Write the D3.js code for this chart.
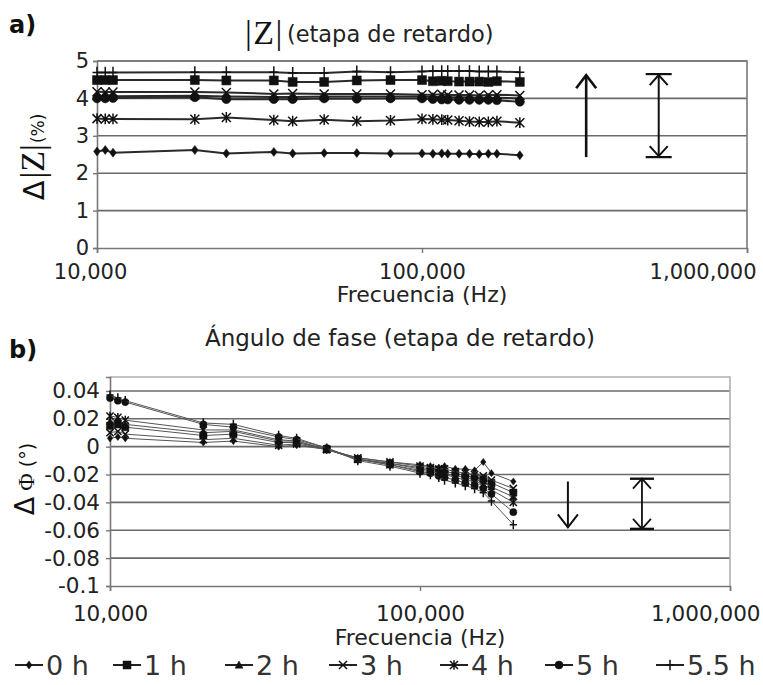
<!DOCTYPE html>
<html><head><meta charset="utf-8">
<script src="https://cdn.jsdelivr.net/npm/d3@7"></script>
<style>body{margin:0;background:#fff}svg{display:block}</style>
</head><body><svg id="c" width="763" height="685"></svg>
<script>
// ---------- DATA ----------
const frequencies = [10000, 10600, 11200, 20000, 25000, 35000, 40000, 50000, 63000, 80000,
  100000, 108000, 115000, 120000, 130000, 140000, 150000, 160000, 170000, 200000];
const seriesNames = ["0 h", "1 h", "2 h", "3 h", "4 h", "5 h", "5.5 h"];
const markerTypes = ["diamond", "square", "triangle", "x", "asterisk", "circle", "plus"];

// a) Δ|Z| (%)
const mag0h  = [2.58, 2.62, 2.55, 2.62, 2.53, 2.57, 2.53, 2.54, 2.54, 2.53, 2.53, 2.52, 2.53, 2.52, 2.52, 2.52, 2.51, 2.52, 2.52, 2.48];
const mag1h  = [4.49, 4.49, 4.49, 4.49, 4.48, 4.48, 4.44, 4.44, 4.48, 4.49, 4.49, 4.46, 4.47, 4.46, 4.45, 4.45, 4.45, 4.44, 4.46, 4.44];
const mag2h  = [4.06, 4.06, 4.06, 4.07, 4.05, 4.04, 4.04, 4.05, 4.05, 4.05, 4.05, 4.04, 4.04, 4.03, 4.03, 4.03, 4.02, 4.02, 4.02, 4.00];
const mag3h  = [4.18, 4.17, 4.17, 4.17, 4.16, 4.12, 4.13, 4.12, 4.12, 4.12, 4.10, 4.10, 4.11, 4.09, 4.09, 4.09, 4.08, 4.09, 4.10, 4.08];
const mag4h  = [3.46, 3.45, 3.45, 3.44, 3.49, 3.42, 3.39, 3.43, 3.39, 3.41, 3.45, 3.44, 3.43, 3.42, 3.40, 3.38, 3.37, 3.37, 3.39, 3.35];
const mag5h  = [4.00, 4.00, 4.01, 4.03, 3.98, 3.98, 3.98, 4.00, 3.99, 4.00, 4.00, 3.98, 3.97, 3.97, 3.96, 3.96, 3.96, 3.96, 3.95, 3.91];
const mag55h = [4.69, 4.69, 4.69, 4.70, 4.70, 4.70, 4.68, 4.68, 4.72, 4.70, 4.72, 4.73, 4.73, 4.73, 4.73, 4.73, 4.72, 4.72, 4.72, 4.70];

// b) ΔΦ (°)
const ph0h  = [0.006, 0.007, 0.006, 0.003, 0.004, 0.000, 0.001, -0.002, -0.008, -0.011, -0.013, -0.014, -0.015, -0.014, -0.016, -0.016, -0.017, -0.011, -0.019, -0.025];
const ph1h  = [0.015, 0.016, 0.014, 0.008, 0.009, 0.003, 0.003, -0.002, -0.009, -0.012, -0.015, -0.016, -0.017, -0.018, -0.019, -0.021, -0.022, -0.023, -0.026, -0.033];
const ph2h  = [0.018, 0.019, 0.016, 0.010, 0.011, 0.004, 0.004, -0.002, -0.009, -0.012, -0.016, -0.017, -0.018, -0.019, -0.021, -0.022, -0.024, -0.025, -0.029, -0.036];
const ph3h  = [0.010, 0.011, 0.009, 0.005, 0.006, 0.001, 0.002, -0.002, -0.008, -0.011, -0.014, -0.015, -0.016, -0.016, -0.018, -0.019, -0.020, -0.021, -0.024, -0.030];
const ph4h  = [0.022, 0.021, 0.019, 0.012, 0.012, 0.005, 0.004, -0.002, -0.009, -0.013, -0.017, -0.018, -0.019, -0.020, -0.022, -0.024, -0.025, -0.027, -0.031, -0.040];
const ph5h  = [0.035, 0.033, 0.032, 0.016, 0.014, 0.007, 0.005, -0.001, -0.009, -0.013, -0.018, -0.019, -0.021, -0.022, -0.024, -0.026, -0.028, -0.030, -0.034, -0.047];
const ph55h = [0.037, 0.035, 0.033, 0.017, 0.016, 0.008, 0.006, -0.001, -0.010, -0.014, -0.019, -0.020, -0.022, -0.024, -0.026, -0.028, -0.030, -0.033, -0.039, -0.056];

const magTicks = [0, 1, 2, 3, 4, 5];
const phaseTicks = [-0.1, -0.08, -0.06, -0.04, -0.02, 0, 0.02, 0.04];
const freqTicks = [10000, 100000, 1000000];

// annotation arrows (freq, from value, to value)
const magArrowSingle = [320000, 2.43, 4.62];
const magArrowDouble = [535000, 2.43, 4.65];
const phArrowSingle = [300000, -0.025, -0.058];
const phArrowDouble = [520000, -0.023, -0.059];

const magSeries = [mag0h, mag1h, mag2h, mag3h, mag4h, mag5h, mag55h];
const phSeries = [ph0h, ph1h, ph2h, ph3h, ph4h, ph5h, ph55h];

// ---------- DRAW ----------
const svg = d3.select("#c");
const SANS = "'DejaVu Sans', sans-serif";
const SERIF = "'Liberation Serif', 'DejaVu Serif', serif";

function markerPath(type, r) {
  switch (type) {
    case "diamond": return `M0,${-r}L${r*0.75},0L0,${r}L${-r*0.75},0Z`;
    case "square": return `M${-r},${-r}H${r}V${r}H${-r}Z`;
    case "triangle": return `M0,${-r}L${r},${r*0.8}L${-r},${r*0.8}Z`;
    case "circle": return d3.arc()({innerRadius:0, outerRadius:r, startAngle:0, endAngle:2*Math.PI});
    case "x": return `M${-r},${-r}L${r},${r}M${-r},${r}L${r},${-r}`;
    case "asterisk": return `M${-r},${-r}L${r},${r}M${-r},${r}L${r},${-r}M0,${-r*1.2}V${r*1.2}`;
    case "plus": return `M0,${-r*1.3}V${r*1.3}M${-r},0H${r}`;
  }
}
function drawMarker(g, type, r, sw) {
  const filled = ["diamond", "square", "triangle", "circle"].includes(type);
  g.append("path").attr("d", markerPath(type, r))
    .attr("fill", filled ? "#111" : "none")
    .attr("stroke", "#111").attr("stroke-width", filled ? 0.5 : sw);
}

function arrowHead(g, x, y, dir, w, h, sw) {
  g.append("path").attr("d", `M${x-w},${y - dir*h}L${x},${y}L${x+w},${y - dir*h}`)
    .attr("fill", "none").attr("stroke", "#111").attr("stroke-width", sw);
}

function panel(opts) {
  const {x, y, data, yTicks, yFmt, lineW, lineColor, markerR, frameColor, yLabelPad, xLabelPad, firstLabelShift, lastLabelEnd, tickFont} = opts;
  const g = svg.append("g");
  const [x0, x1] = x.range();
  const [yb, yt] = y.range();
  g.selectAll(".grid").data(yTicks.filter(t => t !== y.domain()[0])).join("line")
    .attr("x1", x0).attr("x2", x1).attr("y1", d => y(d)).attr("y2", d => y(d))
    .attr("stroke", "#6a6a6a").attr("stroke-width", 1.6);
  g.append("path").attr("d", `M${x0},${yt}H${x1}V${yb}`).attr("fill", "none")
    .attr("stroke", frameColor).attr("stroke-width", 1.6);
  const xa = g.append("g").attr("transform", `translate(0,${yb})`)
    .call(d3.axisBottom(x).tickValues(freqTicks).tickFormat(d3.format(",")).tickSize(5).tickPadding(xLabelPad));
  xa.select(".domain").attr("stroke", "#777").attr("stroke-width", 1.6);
  xa.selectAll(".tick line").attr("stroke", "#777").attr("stroke-width", 1.4);
  xa.selectAll(".tick text").attr("font-family", SANS).attr("font-size", tickFont).attr("fill", "#222")
    .each(function(d) {
      if (d === freqTicks[0]) d3.select(this).attr("x", firstLabelShift);
      if (d === freqTicks[freqTicks.length - 1]) d3.select(this).attr("text-anchor", "end").attr("x", lastLabelEnd - x1);
    });
  const ya = g.append("g").attr("transform", `translate(${x0},0)`)
    .call(d3.axisLeft(y).tickValues(yTicks).tickFormat(yFmt).tickSize(4).tickPadding(yLabelPad));
  ya.select(".domain").attr("stroke", "#777").attr("stroke-width", 1.6);
  ya.selectAll(".tick line").attr("stroke", "#777").attr("stroke-width", 1.4);
  ya.selectAll(".tick text").attr("font-family", SANS).attr("font-size", tickFont).attr("fill", "#222");
  const line = d3.line().x((d, i) => x(frequencies[i])).y(d => y(d));
  data.forEach((vals, si) => {
    g.append("path").attr("d", line(vals)).attr("fill", "none")
      .attr("stroke", lineColor).attr("stroke-width", lineW);
    vals.forEach((v, i) => {
      const m = g.append("g").attr("transform", `translate(${x(frequencies[i])},${y(v)})`);
      drawMarker(m, markerTypes[si], markerR, 1.5);
    });
  });
  return g;
}

// ---- Panel a ----
const xA = d3.scaleLog().domain([1e4, 1e6]).range([97, 747]);
const yA = d3.scaleLinear().domain([0, 5]).range([248, 61]);
const gA = panel({x: xA, y: yA, data: magSeries, yTicks: magTicks, yFmt: d => String(d),
  lineW: 2, lineColor: "#2a2a2a", markerR: 4.5, frameColor: "#7a7a7a", yLabelPad: 4, xLabelPad: 11,
  firstLabelShift: -7, lastLabelEnd: 756, tickFont: 21});
{
  const [f, v0, v1] = magArrowSingle;
  const X = xA(f);
  gA.append("line").attr("x1", X).attr("x2", X).attr("y1", yA(v0)).attr("y2", yA(v1))
    .attr("stroke", "#111").attr("stroke-width", 2.6);
  arrowHead(gA, X, yA(v1), -1, 10, 13, 2.6);
  const [f2, w0, w1] = magArrowDouble;
  const X2 = xA(f2);
  gA.append("line").attr("x1", X2).attr("x2", X2).attr("y1", yA(w0)).attr("y2", yA(w1))
    .attr("stroke", "#111").attr("stroke-width", 2);
  [[w0, 1], [w1, -1]].forEach(([w, dir]) => {
    gA.append("line").attr("x1", X2 - 13).attr("x2", X2 + 13).attr("y1", yA(w)).attr("y2", yA(w))
      .attr("stroke", "#111").attr("stroke-width", 2.2);
    arrowHead(gA, X2, yA(w) - dir * 1, dir, 9, 10, 2);
  });
}

// ---- Panel b ----
const xB = d3.scaleLog().domain([1e4, 1e6]).range([110, 730]);
const yB = d3.scaleLinear().domain([-0.1, 0.05]).range([586, 377]);
const gB = panel({x: xB, y: yB, data: phSeries, yTicks: phaseTicks,
  yFmt: d => d === 0 ? "0" : String(+d.toFixed(2)),
  lineW: 1, lineColor: "#555", markerR: 3.6, frameColor: "#b0b0b0", yLabelPad: 6, xLabelPad: 15,
  firstLabelShift: 0, lastLabelEnd: 760, tickFont: 21.5});
{
  const [f, v0, v1] = phArrowSingle;
  const X = xB(f);
  gB.append("line").attr("x1", X).attr("x2", X).attr("y1", yB(v0)).attr("y2", yB(v1))
    .attr("stroke", "#111").attr("stroke-width", 2);
  arrowHead(gB, X, yB(v1), 1, 10, 13, 2);
  const [f2, w0, w1] = phArrowDouble;
  const X2 = xB(f2);
  gB.append("line").attr("x1", X2).attr("x2", X2).attr("y1", yB(w0)).attr("y2", yB(w1))
    .attr("stroke", "#111").attr("stroke-width", 1.8);
  [[w0, -1], [w1, 1]].forEach(([w, dir]) => {
    gB.append("line").attr("x1", X2 - 12).attr("x2", X2 + 12).attr("y1", yB(w)).attr("y2", yB(w))
      .attr("stroke", "#111").attr("stroke-width", 2.4);
    arrowHead(gB, X2, yB(w), dir, 9, 10, 1.8);
  });
}

// ---- Texts ----
svg.append("text").attr("x", 9).attr("y", 33).attr("font-family", SANS).attr("font-weight", "bold")
  .attr("font-size", 24).attr("fill", "#111").text("a)");
svg.append("text").attr("x", 9).attr("y", 358).attr("font-family", SANS).attr("font-weight", "bold")
  .attr("font-size", 24).attr("fill", "#111").text("b)");

const tA = svg.append("text").attr("x", 245).attr("y", 44).attr("fill", "#111");
tA.append("tspan").attr("font-family", SERIF).attr("font-size", 34).attr("letter-spacing", 1.5).text("|Z|");
tA.append("tspan").attr("font-family", SANS).attr("font-size", 22.5).attr("dx", 3).attr("dy", -2).attr("fill", "#222").text("(etapa de retardo)");

svg.append("text").attr("x", 400).attr("y", 346).attr("text-anchor", "middle")
  .attr("font-family", SANS).attr("font-size", 23).attr("fill", "#222")
  .text("Ángulo de fase (etapa de retardo)");

svg.append("text").attr("x", 422).attr("y", 302).attr("text-anchor", "middle")
  .attr("font-family", SANS).attr("font-size", 22).attr("fill", "#222").text("Frecuencia (Hz)");
svg.append("text").attr("x", 420).attr("y", 645).attr("text-anchor", "middle")
  .attr("font-family", SANS).attr("font-size", 22).attr("fill", "#222").text("Frecuencia (Hz)");

const yTA = svg.append("text").attr("transform", "translate(44,157) rotate(-90)")
  .attr("text-anchor", "middle").attr("fill", "#111");
yTA.append("tspan").attr("font-family", SANS).attr("font-size", 29).text("Δ");
yTA.append("tspan").attr("font-family", SERIF).attr("font-size", 34).attr("dx", 2).text("|Z|");
yTA.append("tspan").attr("font-family", SANS).attr("font-size", 17).attr("dx", 1).text("(%)");

const yTB = svg.append("text").attr("transform", "translate(34,479) rotate(-90)")
  .attr("text-anchor", "middle").attr("fill", "#111");
yTB.append("tspan").attr("font-family", SANS).attr("font-size", 27).text("Δ");
yTB.append("tspan").attr("font-family", SERIF).attr("font-size", 24).attr("dx", 6).text("Φ");
yTB.append("tspan").attr("font-family", SANS).attr("font-size", 19).attr("dx", 6).text("(°)");

// legend
const legendX = [15, 113, 225, 329, 440, 545, 656];
const legY = 665;
seriesNames.forEach((name, i) => {
  const g = svg.append("g").attr("transform", `translate(${legendX[i]},${legY})`);
  g.append("line").attr("x1", 0).attr("x2", 28).attr("y1", 0).attr("y2", 0)
    .attr("stroke", "#222").attr("stroke-width", 2);
  const m = g.append("g").attr("transform", "translate(14,0)");
  drawMarker(m, markerTypes[i], 4, 1.5);
  g.append("text").attr("x", 31).attr("y", 10).attr("font-family", SANS).attr("font-size", 27)
    .attr("fill", "#333").text(name);
});
</script>
</body></html>
